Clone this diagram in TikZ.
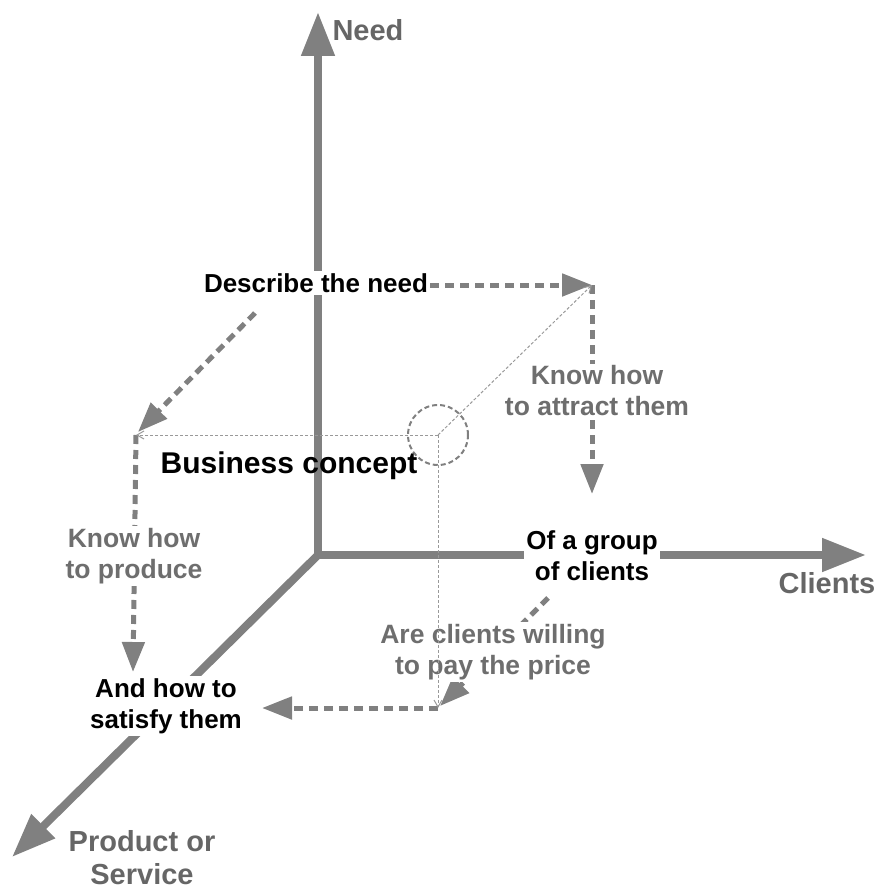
\documentclass[tikz,border=0pt]{standalone}
\usepackage{fontspec}
\setmainfont{Liberation Sans}
\usetikzlibrary{arrows.meta}
\definecolor{axisgray}{HTML}{808080}
\definecolor{lblgray}{HTML}{666666}
\definecolor{txtgray}{HTML}{6E6E6E}
\definecolor{thingray}{HTML}{999999}
\begin{document}
\begin{tikzpicture}[x=1pt,y=-1pt,
  axis/.style={draw=axisgray,line width=8pt,-{Triangle[length=44pt,width=32pt]}},
  thickdash/.style={draw=axisgray,line width=5pt,dash pattern=on 9pt off 6pt,-{Triangle[length=30pt,width=22pt]}},
  thindash/.style={draw=thingray,line width=1pt,dash pattern=on 3pt off 2pt,-{Straight Barb[length=7pt,width=8pt]}},
  axislbl/.style={text=lblgray,font=\bfseries\fontsize{29}{33}\selectfont,align=center,inner sep=1pt},
  blacktxt/.style={text=black,font=\bfseries\fontsize{26}{31}\selectfont,align=center,inner sep=2pt},
  graytxt/.style={text=txtgray,font=\bfseries\fontsize{26.5}{31}\selectfont,align=center,inner sep=2pt},
  ]
\useasboundingbox (0,0) rectangle (877,891);
% key points
\coordinate (O) at (318,555);
\coordinate (needtip) at (318,12);
\coordinate (clitip) at (866,555);
\coordinate (prodtip) at (12,857);
\coordinate (C) at (438,435);
\coordinate (A) at (592,285);
\coordinate (B) at (136,435);
\coordinate (D) at (438,708);
\coordinate (attractend) at (592,494);
\coordinate (produceend) at (133,672);
\coordinate (satend) at (262,708);
\coordinate (diagstart) at (255,313);
\coordinate (diagend) at (138,432);
\coordinate (paystart) at (548,598);
\coordinate (payend) at (440,706);
% axes
\draw[axis] (O) -- (needtip);
\draw[axis] (O) -- (clitip);
\draw[axis] (O) -- (prodtip);
\node[axislbl] (needlbl) at (368,30) {Need};
\node[axislbl] (clilbl) at (827,583) {Clients};
\node[axislbl] (prodlbl) at (142,858) {Product or\\Service};
% thick dashed arrows
\node[blacktxt,fill=white] (desc) at (316,283) {Describe the need};
\draw[thickdash] (desc.east) ++(0,2) -- (A);
\draw[thickdash] (A) -- (attractend);
\draw[thickdash] (diagstart) -- (diagend);
\draw[thickdash] (B) -- (produceend);
\draw[thickdash] (D) -- (satend);
\draw[thickdash] (paystart) -- (payend);
% labels with white background
\node[graytxt,fill=white] (attract) at (597,391) {Know how\\to attract them};
\node[graytxt,fill=white] (produce) at (134,556) {Know how\\to produce};
\node[blacktxt,fill=white] (satisfy) at (166,706) {And how to\\satisfy them};
\node[blacktxt,fill=white] (group) at (592,556) {Of a group\\of clients};
\node[graytxt,fill=white] (pay) at (493,652) {Are clients willing\\to pay the price};
% thin dashed lines from the business concept point
\draw[thindash] (C) -- (A);
\draw[thindash] (C) -- (B);
\draw[thindash] (C) -- (D);
\node[draw=axisgray,line width=2pt,dash pattern=on 5pt off 3pt,circle,minimum size=60pt,inner sep=0pt] (ring) at (C) {};
\node[blacktxt,font=\bfseries\fontsize{30}{36}\selectfont] (bc) at (289,466) {Business concept};
\end{tikzpicture}
\end{document}
